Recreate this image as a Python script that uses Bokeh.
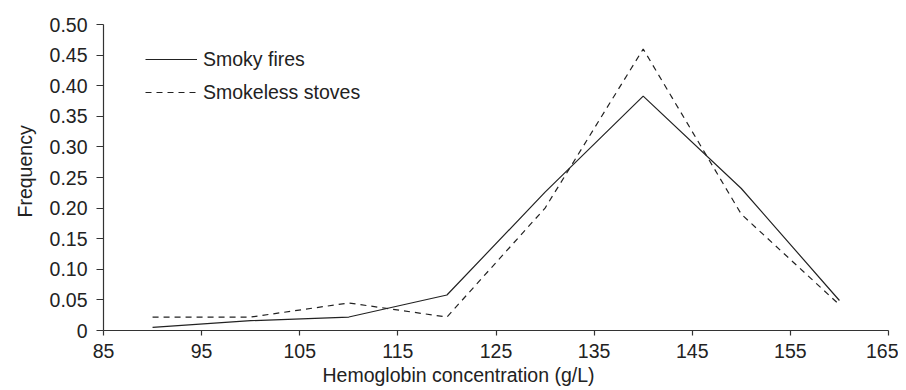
from bokeh.plotting import figure
from bokeh.models import Legend, LegendItem, FixedTicker, Range1d, Title
from bokeh.embed import file_html
from bokeh.resources import INLINE

# Data
hemoglobin = [90, 100, 110, 120, 130, 140, 150, 160]
smoky_fires = [0.005, 0.016, 0.022, 0.058, 0.226, 0.383, 0.232, 0.049]
smokeless_stoves = [0.022, 0.022, 0.045, 0.022, 0.200, 0.460, 0.190, 0.042]

x_ticks = [85, 95, 105, 115, 125, 135, 145, 155, 165]
y_ticks = [0, 0.05, 0.1, 0.15, 0.2, 0.25, 0.3, 0.35, 0.4, 0.45, 0.5]
y_tick_labels = ["0", "0.05", "0.10", "0.15", "0.20", "0.25", "0.30", "0.35", "0.40", "0.45", "0.50"]
x_title = "Hemoglobin concentration (g/L)"
y_title = "Frequency"

FONT = "Liberation Sans"
FS = "19.5px"
INK = "#222222"

p = figure(width=898, height=390, output_backend="svg", toolbar_location=None,
           x_range=Range1d(85, 165), y_range=Range1d(0, 0.5),
           min_border_left=103, min_border_right=10, min_border_top=24, min_border_bottom=60)

p.outline_line_color = None
p.xgrid.visible = False
p.ygrid.visible = False
p.background_fill_color = "white"

r1 = p.line(hemoglobin, smoky_fires, line_color=INK, line_width=1.2)
r2 = p.line(hemoglobin, smokeless_stoves, line_color=INK, line_width=1.2, line_dash="6 5")

for ax in (p.xaxis[0], p.yaxis[0]):
    ax.axis_line_color = "#333333"
    ax.axis_line_width = 1.2
    ax.major_tick_line_color = "#333333"
    ax.major_tick_line_width = 1.2
    ax.major_tick_in = 0
    ax.minor_tick_line_color = None
    ax.major_label_text_font = FONT
    ax.major_label_text_font_size = FS
    ax.major_label_text_color = INK

p.xaxis.ticker = FixedTicker(ticks=x_ticks)
p.xaxis.major_tick_out = 5
p.xaxis.major_label_standoff = 8

p.yaxis.ticker = FixedTicker(ticks=y_ticks)
p.yaxis.major_label_overrides = {t: s for t, s in zip(y_ticks, y_tick_labels)}
p.yaxis.major_tick_out = 7
p.yaxis.major_label_standoff = 9

# axis titles, placed off-centre as in the original
xt = Title(text=x_title, align="left", offset=219, standoff=3,
           text_font=FONT, text_font_size=FS, text_font_style="normal", text_color=INK)
p.add_layout(xt, "below")
yt = Title(text=y_title, align="left", offset=113, standoff=21,
           text_font=FONT, text_font_size=FS, text_font_style="normal", text_color=INK)
p.add_layout(yt, "left")

legend = Legend(items=[LegendItem(label="Smoky fires", renderers=[r1]),
                       LegendItem(label="Smokeless stoves", renderers=[r2])],
                location=(42, 223), orientation="vertical")
legend.border_line_color = None
legend.background_fill_alpha = 0
legend.padding = 0
legend.margin = 0
legend.spacing = 3
legend.glyph_width = 52
legend.glyph_height = 30
legend.label_height = 30
legend.label_standoff = 6
legend.label_text_font = FONT
legend.label_text_font_size = FS
legend.label_text_color = INK
p.add_layout(legend)

open("out.html", "w").write(file_html(p, INLINE))
